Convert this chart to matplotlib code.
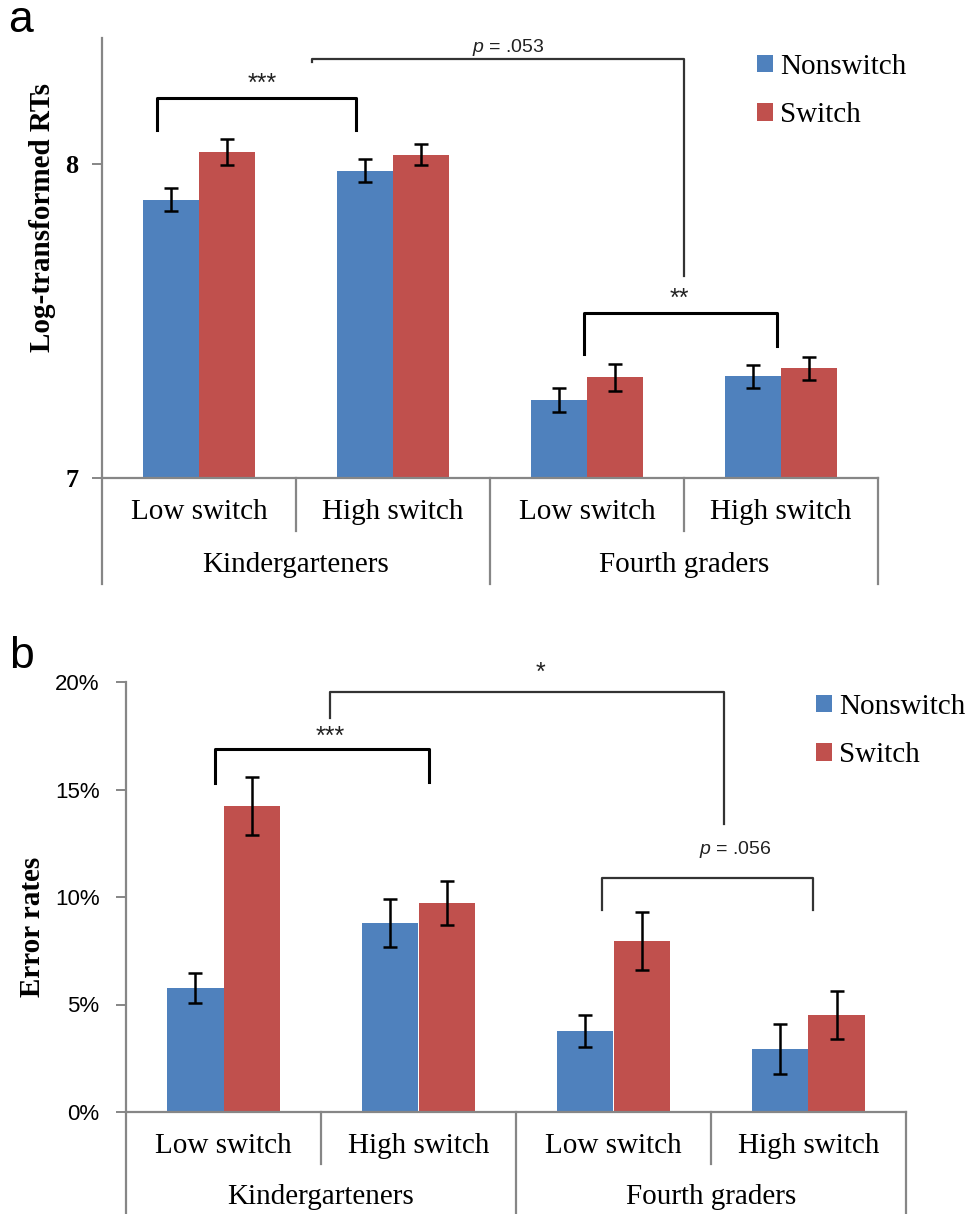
import numpy as np
import matplotlib
matplotlib.use("Agg")
import matplotlib.pyplot as plt
from matplotlib.patches import Patch
from matplotlib.ticker import FuncFormatter

plt.rcParams['mathtext.fontset'] = 'custom'
plt.rcParams['mathtext.it'] = 'Liberation Sans:italic'
plt.rcParams['mathtext.rm'] = 'Liberation Sans'

# data
groups = ["Kindergarteners", "Fourth graders"]
conditions = ["Low switch", "High switch", "Low switch", "High switch"]
series = ["Nonswitch", "Switch"]

rt_nonswitch = [7.886, 7.978, 7.248, 7.324]
rt_switch = [8.038, 8.029, 7.321, 7.349]
rt_nonswitch_err = [0.036, 0.037, 0.039, 0.037]
rt_switch_err = [0.041, 0.034, 0.043, 0.036]

er_nonswitch = [5.77, 8.79, 3.77, 2.93]
er_switch = [14.23, 9.72, 7.95, 4.51]
er_nonswitch_err = [0.71, 1.12, 0.75, 1.15]
er_switch_err = [1.36, 1.04, 1.36, 1.10]

# significance brackets: x_left, x_right, y_top, y_left_end, y_right_end, label, label_x, label_y
rt_brackets = [
    (-0.218, 0.808, 8.210, 8.108, 8.108, "***", 0.328, 8.254),
    (0.581, 2.498, 8.333, 8.324, 7.644, r"$\it{p}$ = .053", 1.592, 8.371),
    (1.983, 2.978, 7.524, 7.394, 7.419, "**", 2.478, 7.571),
]
er_brackets = [
    (-0.044, 1.054, 16.88, 15.30, 15.35, "***", 0.546, 17.44),
    (0.546, 2.567, 19.53, 18.33, 13.40, "*", 1.628, 20.42),
    (1.941, 3.023, 10.88, 9.40, 9.40, r"$\it{p}$ = .056", 2.623, 12.19),
]

BLUE = "#4F81BD"
RED = "#C0504D"
GRAY = "#868686"
SERIF = "Liberation Serif"
SANS = "Liberation Sans"

W, H = 968, 1214
fig = plt.figure(figsize=(W / 100, H / 100), dpi=100)


def draw_panel(ax, nonsw, sw, nonsw_err, sw_err, brackets, ylim, yticks,
               ylabel, label_xy, tick_font, legend_xy):
    x = np.arange(len(conditions))
    bw = 0.29
    ax.bar(x - bw / 2, nonsw, bw, color=BLUE, zorder=2)
    ax.bar(x + bw / 2, sw, bw, color=RED, zorder=2)
    ax.errorbar(x - bw / 2, nonsw, yerr=nonsw_err, fmt='none', ecolor='black',
                elinewidth=1.8, capsize=5, capthick=1.8, zorder=3)
    ax.errorbar(x + bw / 2, sw, yerr=sw_err, fmt='none', ecolor='black',
                elinewidth=1.8, capsize=5, capthick=1.8, zorder=3)
    ax.set_xlim(-0.5, len(conditions) - 0.5)
    ax.set_ylim(*ylim)
    ax.set_yticks(yticks)
    ax.set_xticks([])
    for s in ["top", "right"]:
        ax.spines[s].set_visible(False)
    for s in ["left", "bottom"]:
        ax.spines[s].set_color(GRAY)
        ax.spines[s].set_linewidth(1.6)
    ax.tick_params(axis='y', length=7, width=1.4, color=GRAY, pad=tick_font[2])
    for t in ax.get_yticklabels():
        t.set_fontfamily(tick_font[0])
        t.set_fontweight(tick_font[1])
        t.set_fontsize(tick_font[3])

    ax.text(label_xy[0], label_xy[1], ylabel, transform=ax.transAxes, rotation=90,
            ha='center', va='center', fontsize=21, fontweight='bold', family=SERIF)

    # two-level category axis
    tr = ax.get_xaxis_transform()
    for i, c in enumerate(conditions):
        ax.text(i, -0.078, c, transform=tr, ha='center', va='center',
                fontsize=21, family=SERIF)
    for g, name in enumerate(groups):
        ax.text(2 * g + 0.5, -0.198, name, transform=tr, ha='center', va='center',
                fontsize=21, family=SERIF)
    for xs in [0.5, 2.5]:
        ax.plot([xs, xs], [0, -0.12], transform=tr, color=GRAY, lw=1.6, clip_on=False)
    for xs in [-0.5, 1.5, 3.5]:
        ax.plot([xs, xs], [0, -0.24], transform=tr, color=GRAY, lw=1.6, clip_on=False)

    for (x0, x1, yt, y0, y1, lab, lx, ly) in brackets:
        thick = lab.startswith("*") and lab != "*"
        col = 'black' if thick else '#333333'
        ax.plot([x0, x0, x1, x1], [y0, yt, yt, y1], color=col,
                lw=2.2 if thick else 1.6, clip_on=False, zorder=4)
        ax.text(lx, ly, lab, ha='center', va='center', family=SANS,
                fontsize=18 if lab.startswith("*") else 14, color='#222222')

    ax.legend(handles=[Patch(fc=BLUE), Patch(fc=RED)], labels=series,
              loc='upper left', bbox_to_anchor=legend_xy,
              bbox_transform=fig.transFigure, frameon=False,
              prop={'family': SERIF, 'size': 21}, handlelength=0.55,
              handleheight=0.55, handletextpad=0.25, labelspacing=0.76,
              borderpad=0, borderaxespad=0)


ax_a = fig.add_axes([102 / W, 1 - 478 / H, 776 / W, 440 / H])
draw_panel(ax_a, rt_nonswitch, rt_switch, rt_nonswitch_err, rt_switch_err,
           rt_brackets, (7, 8.4), [7, 8], "Log-transformed RTs",
           (-0.077, 0.591), (SERIF, 'bold', 10, 19), (757 / W, 1 - 54 / H))

ax_b = fig.add_axes([126 / W, 1 - 1112 / H, 780 / W, 430 / H])
draw_panel(ax_b, er_nonswitch, er_switch, er_nonswitch_err, er_switch_err,
           er_brackets, (0, 20), [0, 5, 10, 15, 20], "Error rates",
           (-0.1205, 0.430), (SANS, 'normal', 12, 16), (816 / W, 1 - 694 / H))
ax_b.yaxis.set_major_formatter(FuncFormatter(lambda v, p: f"{v:.0f}%"))
for t in ax_b.get_yticklabels():
    t.set_fontfamily(SANS)
    t.set_fontsize(16)

fig.text(20 / W, 1 - 20 / H, "a", fontsize=32, family=SANS, ha='center', va='center')
fig.text(22 / W, 1 - 656 / H, "b", fontsize=32, family=SANS, ha='center', va='center')

fig.savefig("out.png", dpi=100)
